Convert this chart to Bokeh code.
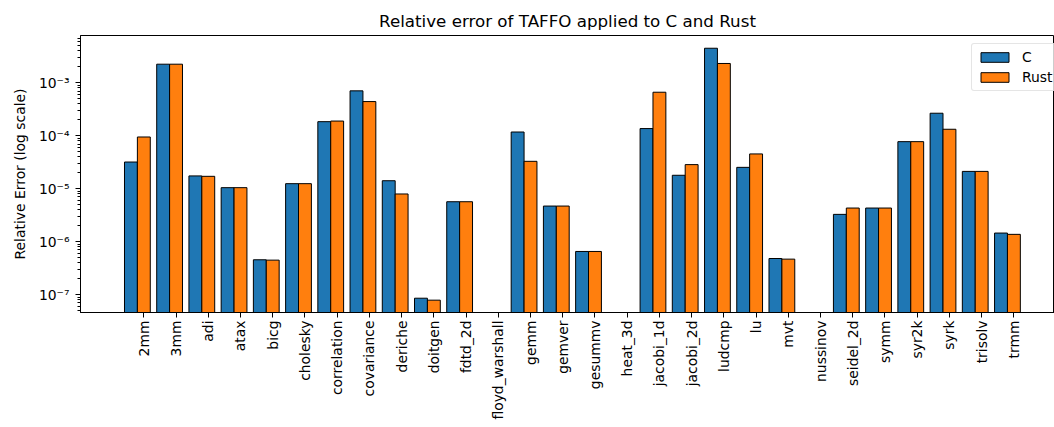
import math
from bokeh.plotting import figure
from bokeh.models import ColumnDataSource, Range1d, FixedTicker, Legend, LegendItem
from bokeh.embed import file_html
from bokeh.resources import INLINE

categories = ["2mm", "3mm", "adi", "atax", "bicg", "cholesky", "correlation",
              "covariance", "deriche", "doitgen", "fdtd_2d", "floyd_warshall",
              "gemm", "gemver", "gesummv", "heat_3d", "jacobi_1d", "jacobi_2d",
              "ludcmp", "lu", "mvt", "nussinov", "seidel_2d", "symm", "syr2k",
              "syrk", "trisolv", "trmm"]
c_values = [3.2e-5, 2.25e-3, 1.75e-5, 1.05e-5, 4.57e-7, 1.25e-5, 1.85e-4,
            7.06e-4, 1.42e-5, 8.6e-8, 5.7e-6, None,
            1.18e-4, 4.72e-6, 6.56e-7, None, 1.37e-4, 1.8e-5,
            4.5e-3, 2.54e-5, 4.83e-7, None, 3.29e-6, 4.33e-6, 7.76e-5,
            2.67e-4, 2.13e-5, 1.46e-6]
rust_values = [9.5e-5, 2.25e-3, 1.72e-5, 1.05e-5, 4.5e-7, 1.25e-5, 1.9e-4,
               4.43e-4, 7.98e-6, 7.9e-8, 5.7e-6, None,
               3.3e-5, 4.72e-6, 6.56e-7, None, 6.65e-4, 2.86e-5,
               2.32e-3, 4.55e-5, 4.7e-7, None, 4.33e-6, 4.33e-6, 7.76e-5,
               1.33e-4, 2.13e-5, 1.38e-6]
y_ticks = [1e-7, 1e-6, 1e-5, 1e-4, 1e-3]
y_tick_labels = ["10⁻⁷", "10⁻⁶", "10⁻⁵", "10⁻⁴", "10⁻³"]

BAR_W = 0.4
FLOOR = 1e-10

xc, tc, xr, tr = [], [], [], []
for i, (c, r) in enumerate(zip(c_values, rust_values)):
    if c is not None:
        xc.append(i - BAR_W); tc.append(c)
    if r is not None:
        xr.append(i); tr.append(r)

src_c = ColumnDataSource(dict(x=xc, top=tc, bottom=[FLOOR] * len(xc)))
src_r = ColumnDataSource(dict(x=xr, top=tr, bottom=[FLOOR] * len(xr)))

FONT = "DejaVu Sans"

p = figure(width=1054, height=427, y_axis_type="log",
           x_range=Range1d(-1.965, 28.26), y_range=Range1d(4.62e-8, 7.83e-3),
           output_backend="svg", toolbar_location=None,
           min_border_left=80, min_border_right=0, min_border_top=35, min_border_bottom=115)

rc = p.vbar(x="x", top="top", bottom="bottom", width=BAR_W, source=src_c,
            fill_color="#1f77b4", line_color="black", line_width=1)
rr = p.vbar(x="x", top="top", bottom="bottom", width=BAR_W, source=src_r,
            fill_color="#ff7f0e", line_color="black", line_width=1)

p.title.text = "Relative error of TAFFO applied to C and Rust"
p.title.align = "center"
p.title.offset = 6
p.title.text_font = FONT
p.title.text_font_size = "16.7px"
p.title.text_font_style = "normal"
p.title.text_color = "black"

p.xgrid.visible = False
p.ygrid.visible = False
p.outline_line_color = "black"
p.outline_line_width = 1

xa = p.xaxis[0]
xa.ticker = FixedTicker(ticks=list(range(len(categories))))
xa.major_label_overrides = {i: name for i, name in enumerate(categories)}
xa.major_label_orientation = math.pi / 2
xa.minor_tick_line_color = None
xa.major_tick_in = 0
xa.major_tick_out = 5
xa.major_label_standoff = 3
xa.major_label_text_font = FONT
xa.major_label_text_font_size = "13.9px"
xa.major_label_text_color = "black"
xa.axis_line_color = "black"
xa.major_tick_line_color = "black"

ya = p.yaxis[0]
minor = [m * t for t in [1e-8] + y_ticks for m in range(2, 10)]
ya.ticker = FixedTicker(ticks=y_ticks, minor_ticks=minor)
ya.major_label_overrides = {t: lab for t, lab in zip(y_ticks, y_tick_labels)}
ya.major_tick_in = 0
ya.major_tick_out = 5
ya.minor_tick_in = 0
ya.minor_tick_out = 3
ya.major_label_standoff = 6
ya.major_label_text_font = FONT
ya.major_label_text_font_size = "13.9px"
ya.major_label_text_color = "black"
ya.axis_label = "Relative Error (log scale)"
ya.axis_label_text_font = FONT
ya.axis_label_text_font_size = "13.9px"
ya.axis_label_text_font_style = "normal"
ya.axis_label_text_color = "black"
ya.axis_label_standoff = 8
ya.axis_line_color = "black"
ya.major_tick_line_color = "black"
ya.minor_tick_line_color = "black"

legend = Legend(items=[LegendItem(label="C", renderers=[rc]),
                       LegendItem(label="Rust", renderers=[rr])],
                location=(891, 221), orientation="vertical",
                glyph_width=35, glyph_height=12, label_height=12,
                label_standoff=10, spacing=4, padding=5, margin=0,
                label_text_font=FONT, label_text_font_size="13.9px",
                label_text_color="black",
                border_line_color="#cccccc", border_line_width=1,
                background_fill_alpha=0.8)
if "border_radius" in Legend.properties():
    legend.border_radius = 3
p.add_layout(legend)

open("out.html", "w").write(file_html(p, INLINE))
